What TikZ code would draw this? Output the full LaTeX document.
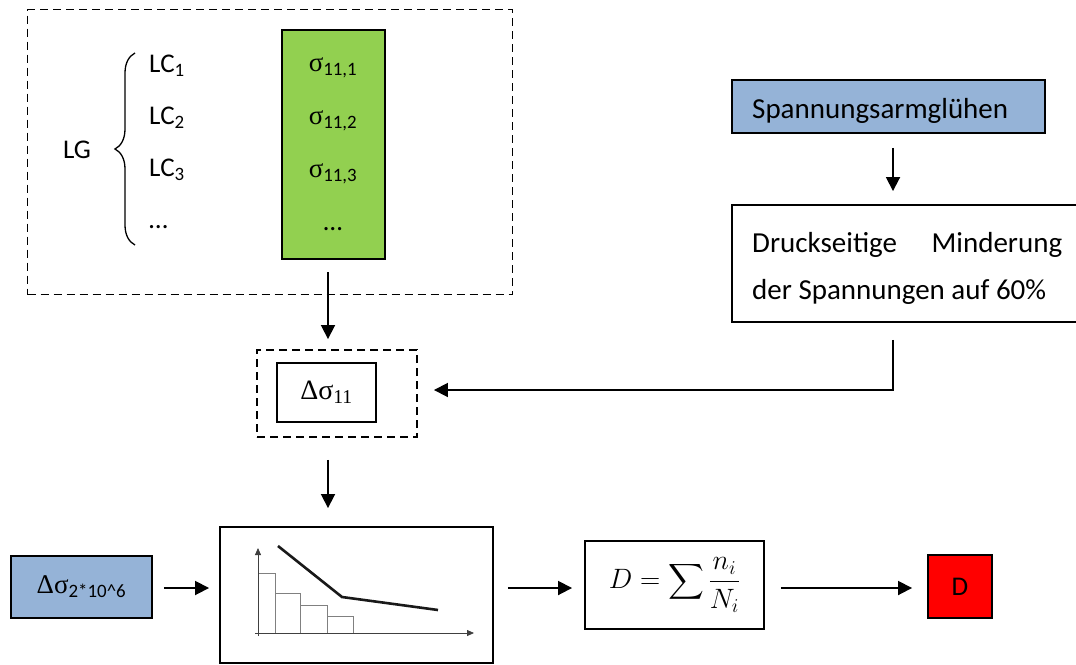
\RequirePackage{fix-cm}
\documentclass[tikz,border=0pt]{standalone}
\usepackage{amsmath}
\usepackage{fontspec}
\setmainfont{Carlito}
\newfontfamily\greekserif{Liberation Serif}
\usetikzlibrary{arrows.meta,decorations.pathreplacing,calc}
\definecolor{boxblue}{HTML}{95B3D7}
\definecolor{boxgreen}{HTML}{92D050}
\definecolor{boxred}{HTML}{FF0000}
\newcommand\sigsub[1]{{\greekserif σ}\textsubscript{#1}}
\begin{document}
\begin{tikzpicture}[x=1pt,y=-1pt,
  box/.style={draw, line width=1.9pt, inner sep=0pt},
  dashbox/.style={draw, line width=1.9pt, dash pattern=on 8pt off 5pt, inner sep=0pt},
  flow/.style={line width=1.8pt, -{Triangle[length=14pt,width=14pt]}},
  txt/.style={font=\fontsize{27}{33}\selectfont, inner sep=0pt},
  bigtxt/.style={font=\fontsize{29}{35}\selectfont, inner sep=0pt},
  axis/.style={line width=0.8pt, draw=black!75, -{Triangle[length=7pt,width=6pt]}},
  bar/.style={line width=0.8pt, draw=black!50},
]
\useasboundingbox (0,0) rectangle (1076,664);

% ---- load groups and stresses ----
\node[dashbox, minimum width=485pt, minimum height=285pt] (lgbox) at (270,152) {};
\node[box, fill=boxgreen, minimum width=103pt, minimum height=229pt] (sig) at (333.5,144.5) {};
\node[txt, anchor=base west] (lg) at (63,158) {LG};
\node[txt, anchor=base west] (lc1) at (149,72) {LC\textsubscript{1}};
\node[txt, anchor=base west] (lc2) at (149,124) {LC\textsubscript{2}};
\node[txt, anchor=base west] (lc3) at (149,176) {LC\textsubscript{3}};
\node[txt, anchor=base west] (lcd) at (149,228) {…};
\node[txt, anchor=base] (s1) at (333,71) {\sigsub{11,1}};
\node[txt, anchor=base] (s2) at (333,124) {\sigsub{11,2}};
\node[txt, anchor=base] (s3) at (333,177) {\sigsub{11,3}};
\node[txt, anchor=base] (sd) at (333,230) {…};
\draw[line width=1.3pt, decorate, decoration={brace, amplitude=20pt, aspect=0.5}]
  (135,245) -- (135,53);

% ---- stress range ----
\node[dashbox, minimum width=160pt, minimum height=87pt] (dbox) at (337,393.5) {};
\node[box, minimum width=99pt, minimum height=59pt, font=\fontsize{28}{32}\selectfont] (ds)
  at (326.5,392.5) {{\greekserif Δσ}\textsubscript{\greekserif 11}};

% ---- stress relief ----
\node[box, fill=boxblue, minimum width=313pt, minimum height=53pt] (spa) at (888.5,106.5) {};
\node[bigtxt, anchor=base west] (spatext) at (752,118) {Spannungsarmglühen};
\node[box, minimum width=350pt, minimum height=117pt] (druck) at (907,263.5) {};
\node[bigtxt, anchor=base west] (druck1) at (752,252) {\hbox to 310pt{Druckseitige\hfill Minderung}};
\node[bigtxt, anchor=base west] (druck2) at (752,299) {der Spannungen auf 60\%};

% ---- bottom row ----
\node[box, fill=boxblue, minimum width=141pt, minimum height=62pt, font=\fontsize{27}{31}\selectfont] (dsig)
  at (81.5,587) {{\greekserif Δσ}\textsubscript{2*10\^{}6}};
\node[box, minimum width=273pt, minimum height=136pt] (chart) at (356.5,595) {};
\node[box, minimum width=179pt, minimum height=88pt, font=\fontsize{28}{33}\selectfont] (form)
  at (674.5,585) {$\displaystyle D=\sum\frac{n_i}{N_i}$};
\node[box, fill=boxred, minimum width=64pt, minimum height=63pt, txt] (dres) at (960,586.5) {D};

% ---- chart sketch ----
\draw[bar] (258,633) rectangle (275,573);
\draw[bar] (275,633) rectangle (300,593);
\draw[bar] (300,633) rectangle (327,605);
\draw[bar] (327,633) rectangle (353,616);
\draw[axis] (258,636) -- (258,548);
\draw[axis] (255,633) -- (474,633);
\draw[line width=2.6pt, draw=black!90] (278,546) -- (342,597) -- (438,610);

% ---- connectors ----
\coordinate (a1) at (328,272);
\coordinate (col) at (893,0);
\coordinate (bend) at (893,390);
\coordinate (row) at (0,588);
\draw[flow, shorten >=10pt] (a1) -- (a1 |- dbox.north);
\draw[flow, shorten <=22pt, shorten >=18pt] (dbox.south -| a1) -- (chart.north -| a1);
\draw[flow, shorten <=14pt, shorten >=13pt] (spa.south -| col) -- (druck.north -| col);
\draw[flow, shorten <=17pt, shorten >=16pt] (druck.south -| bend) -- (bend) -- (dbox.east |- bend);
\draw[flow, shorten <=11pt, shorten >=10pt] (dsig.east |- row) -- (chart.west |- row);
\draw[flow, shorten <=14pt, shorten >=12pt] (chart.east |- row) -- (form.west |- row);
\draw[flow, shorten <=16pt, shorten >=15pt] (form.east |- row) -- (dres.west |- row);
\end{tikzpicture}
\end{document}
